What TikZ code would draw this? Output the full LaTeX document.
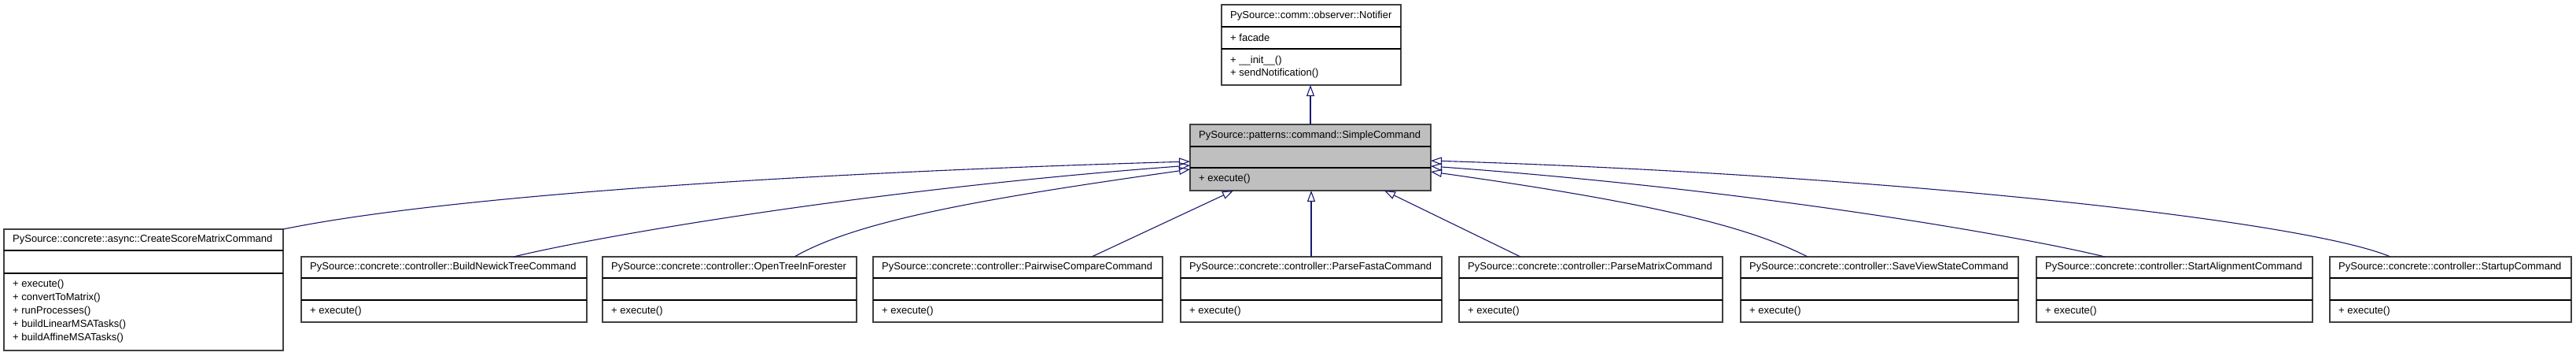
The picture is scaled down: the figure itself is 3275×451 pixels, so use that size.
\documentclass[tikz,border=0pt]{standalone}
\usepackage{fontspec}
\setmainfont{Liberation Sans}
\usetikzlibrary{arrows.meta}
\definecolor{edgeblue}{HTML}{191970}
\definecolor{boxline}{HTML}{404040}
\definecolor{curgray}{HTML}{BFBFBF}
\tikzset{
  umlframe/.style={draw=boxline, line width=1.3pt, inner sep=0pt, outer sep=0pt, rectangle},
  umlsep/.style={draw=black, line width=1.5pt},
  umltext/.style={anchor=west, inner sep=0pt, font=\fontsize{13}{15}\selectfont, text=black},
  inherit/.style={draw=edgeblue, line width=1.1pt, -{Triangle[open, length=14pt, width=10pt]}},
}
% name, left, top, right, sep1, sep2, bottom, fill, title
\newcommand{\umlbox}[9]{%
  \node[umlframe, fill=#8, anchor=north west, minimum width={(#4-#2)*1pt}, minimum height={(#7-#3)*1pt}] (#1) at (#2,#3) {};
  \draw[umlsep] (#2,#5) -- (#4,#5);
  \draw[umlsep] (#2,#6) -- (#4,#6);
  \node[umltext] (#1-t) at (#2+11,{(#3+#5)/2}) {#9};
}
\begin{document}
\begin{tikzpicture}[x=1pt,y=-1pt]
\useasboundingbox (0,0) rectangle (3275,451);

% base classes
\umlbox{nt}{1553}{6}{1781}{34}{62}{108}{white}{PySource::comm::observer::Notifier}
\node[umltext] (nt-a1) at (1564,48) {+ facade};
\node[umltext] (nt-m1) at (1564,77) {+ \_\_init\_\_()};
\node[umltext] (nt-m2) at (1564,93.5) {+ sendNotification()};

\umlbox{sc}{1513}{158}{1819}{186}{213}{242}{curgray}{PySource::patterns::command::SimpleCommand}
\node[umltext] (sc-m1) at (1524,227.5) {+ execute()};

% derived classes
\umlbox{csm}{5}{291}{360}{318}{347}{445}{white}{PySource::concrete::async::CreateScoreMatrixCommand}
\node[umltext] (csm-m1) at (16,361.5) {+ execute()};
\node[umltext] (csm-m2) at (16,378.3) {+ convertToMatrix()};
\node[umltext] (csm-m3) at (16,395.1) {+ runProcesses()};
\node[umltext] (csm-m4) at (16,411.9) {+ buildLinearMSATasks()};
\node[umltext] (csm-m5) at (16,428.7) {+ buildAffineMSATasks()};

\umlbox{bnt}{383}{326}{746}{353}{381}{409}{white}{PySource::concrete::controller::BuildNewickTreeCommand}
\node[umltext] (bnt-m1) at (394,395) {+ execute()};
\umlbox{otf}{766}{326}{1089}{353}{381}{409}{white}{PySource::concrete::controller::OpenTreeInForester}
\node[umltext] (otf-m1) at (777,395) {+ execute()};
\umlbox{pwc}{1110}{326}{1478}{353}{381}{409}{white}{PySource::concrete::controller::PairwiseCompareCommand}
\node[umltext] (pwc-m1) at (1121,395) {+ execute()};
\umlbox{pfa}{1501}{326}{1833}{353}{381}{409}{white}{PySource::concrete::controller::ParseFastaCommand}
\node[umltext] (pfa-m1) at (1512,395) {+ execute()};
\umlbox{pmx}{1855}{326}{2190}{353}{381}{409}{white}{PySource::concrete::controller::ParseMatrixCommand}
\node[umltext] (pmx-m1) at (1866,395) {+ execute()};
\umlbox{svs}{2213}{326}{2566}{353}{381}{409}{white}{PySource::concrete::controller::SaveViewStateCommand}
\node[umltext] (svs-m1) at (2224,395) {+ execute()};
\umlbox{sac}{2589}{326}{2940}{353}{381}{409}{white}{PySource::concrete::controller::StartAlignmentCommand}
\node[umltext] (sac-m1) at (2600,395) {+ execute()};
\umlbox{suc}{2962}{326}{3269}{353}{381}{409}{white}{PySource::concrete::controller::StartupCommand}
\node[umltext] (suc-m1) at (2973,395) {+ execute()};

% connector end points
\coordinate (sc-l1) at (1513,205);
\coordinate (sc-l2) at (1513,210);
\coordinate (sc-l3) at (1513,215);
\coordinate (sc-r1) at (1819,204);
\coordinate (sc-r2) at (1819,211);
\coordinate (sc-r3) at (1819,218);
\coordinate (sc-b1) at (1568,242);
\coordinate (sc-b3) at (1760,242);
\coordinate (bnt-c) at (653,326);
\coordinate (otf-c) at (1010,326);
\coordinate (pwc-c) at (1388,326);
\coordinate (pmx-c) at (1933,326);
\coordinate (svs-c) at (2298,326);
\coordinate (sac-c) at (2676,326);
\coordinate (suc-c) at (3039,326);

% inheritance
\draw[inherit] (sc.north) -- (sc.north |- nt.south);
\draw[inherit] (csm.north east) .. controls (560,250) and (1000,220) .. (sc-l1);
\draw[inherit] (bnt-c) .. controls (760,300) and (1100,241) .. (sc-l2);
\draw[inherit] (otf-c) .. controls (1090,280) and (1250,252) .. (sc-l3);
\draw[inherit] (pwc-c) -- (sc-b1);
\draw[inherit] (pfa.north) -- (pfa.north |- sc.south);
\draw[inherit] (pmx-c) -- (sc-b3);
\draw[inherit] (svs-c) .. controls (2218,285) and (2083,255) .. (sc-r3);
\draw[inherit] (sac-c) .. controls (2569,300) and (2233,241) .. (sc-r2);
\draw[inherit] (suc-c) .. controls (2930,280) and (2400,222) .. (sc-r1);
\end{tikzpicture}
\end{document}
